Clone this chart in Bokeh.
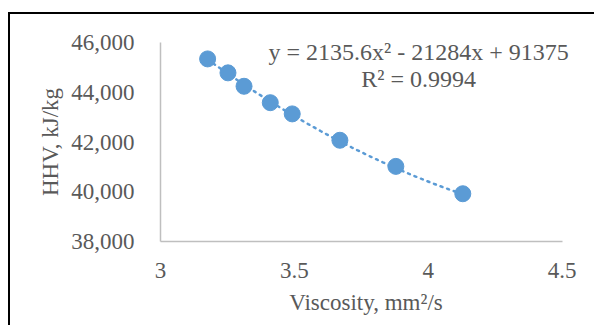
import numpy as np
from bokeh.plotting import figure
from bokeh.models import Range1d, Label, NumeralTickFormatter, FixedTicker
from bokeh.embed import file_html
from bokeh.resources import INLINE

# data
viscosity = [3.176, 3.252, 3.312, 3.410, 3.492, 3.670, 3.879, 4.129]
hhv = [45340, 44780, 44240, 43580, 43130, 42070, 41020, 39920]
trend_coef = [2135.6, -21284, 91375]
x_ticks = [3, 3.5, 4, 4.5]
y_ticks = [38000, 40000, 42000, 44000, 46000]
eq_text = "y = 2135.6x\u00b2 - 21284x + 91375"
r2_text = "R\u00b2 = 0.9994"

BLUE = "#5B9BD5"
GRAY_TXT = "#595959"
AXIS = "#BFBFBF"
FONT = "Liberation Serif"

p = figure(width=586, height=313, output_backend="svg", toolbar_location=None,
           x_range=Range1d(3, 4.535), y_range=Range1d(38000, 46000),
           min_border_left=150, min_border_right=25, min_border_top=28, min_border_bottom=86)
p.margin = (12, 0, 0, 8)
p.styles = {"border-left": "2.5px solid black", "border-top": "2.5px solid black"}
p.outline_line_color = None
p.grid.visible = False
p.background_fill_color = "white"
p.border_fill_color = "white"

for ax in (p.xaxis[0], p.yaxis[0]):
    ax.axis_line_color = AXIS
    ax.axis_line_width = 1.5
    ax.major_tick_line_color = None
    ax.minor_tick_line_color = None
    ax.major_tick_out = 0
    ax.major_tick_in = 0
    ax.major_label_text_font = FONT
    ax.major_label_text_font_size = "23px"
    ax.major_label_text_color = GRAY_TXT
    ax.major_label_text_font_style = "normal"
    ax.axis_label_text_font = FONT
    ax.axis_label_text_font_size = "23px"
    ax.axis_label_text_color = GRAY_TXT
    ax.axis_label_text_font_style = "normal"

p.xaxis.bounds = (3, 4.5)
p.xaxis.ticker = FixedTicker(ticks=x_ticks)
p.yaxis.ticker = FixedTicker(ticks=y_ticks)
p.yaxis.formatter = NumeralTickFormatter(format="0,0")
p.xaxis.major_label_standoff = 21
p.yaxis.major_label_standoff = 26
p.xaxis.axis_label = "Viscosity, mm\u00b2/s"
p.yaxis.axis_label = "HHV, kJ/kg"
p.xaxis.axis_label_standoff = 9
p.yaxis.axis_label_standoff = 5

# trendline from the fit coefficients
xs = np.linspace(min(viscosity), max(viscosity), 100)
ys = np.polyval(trend_coef, xs)
p.line(xs, ys, line_color=BLUE, line_width=2.5, line_dash="2 5", line_cap="round")

p.scatter(viscosity, hhv, size=16, fill_color=BLUE, line_color=BLUE)

eq_x = 3.964
p.add_layout(Label(x=eq_x, y=45600, text=eq_text, text_align="center", text_baseline="alphabetic",
                   text_font=FONT, text_font_size="24px", text_color=GRAY_TXT))
p.add_layout(Label(x=eq_x, y=44520, text=r2_text, text_align="center", text_baseline="alphabetic",
                   text_font=FONT, text_font_size="24px", text_color=GRAY_TXT))

open("out.html", "w").write(file_html(p, INLINE))
